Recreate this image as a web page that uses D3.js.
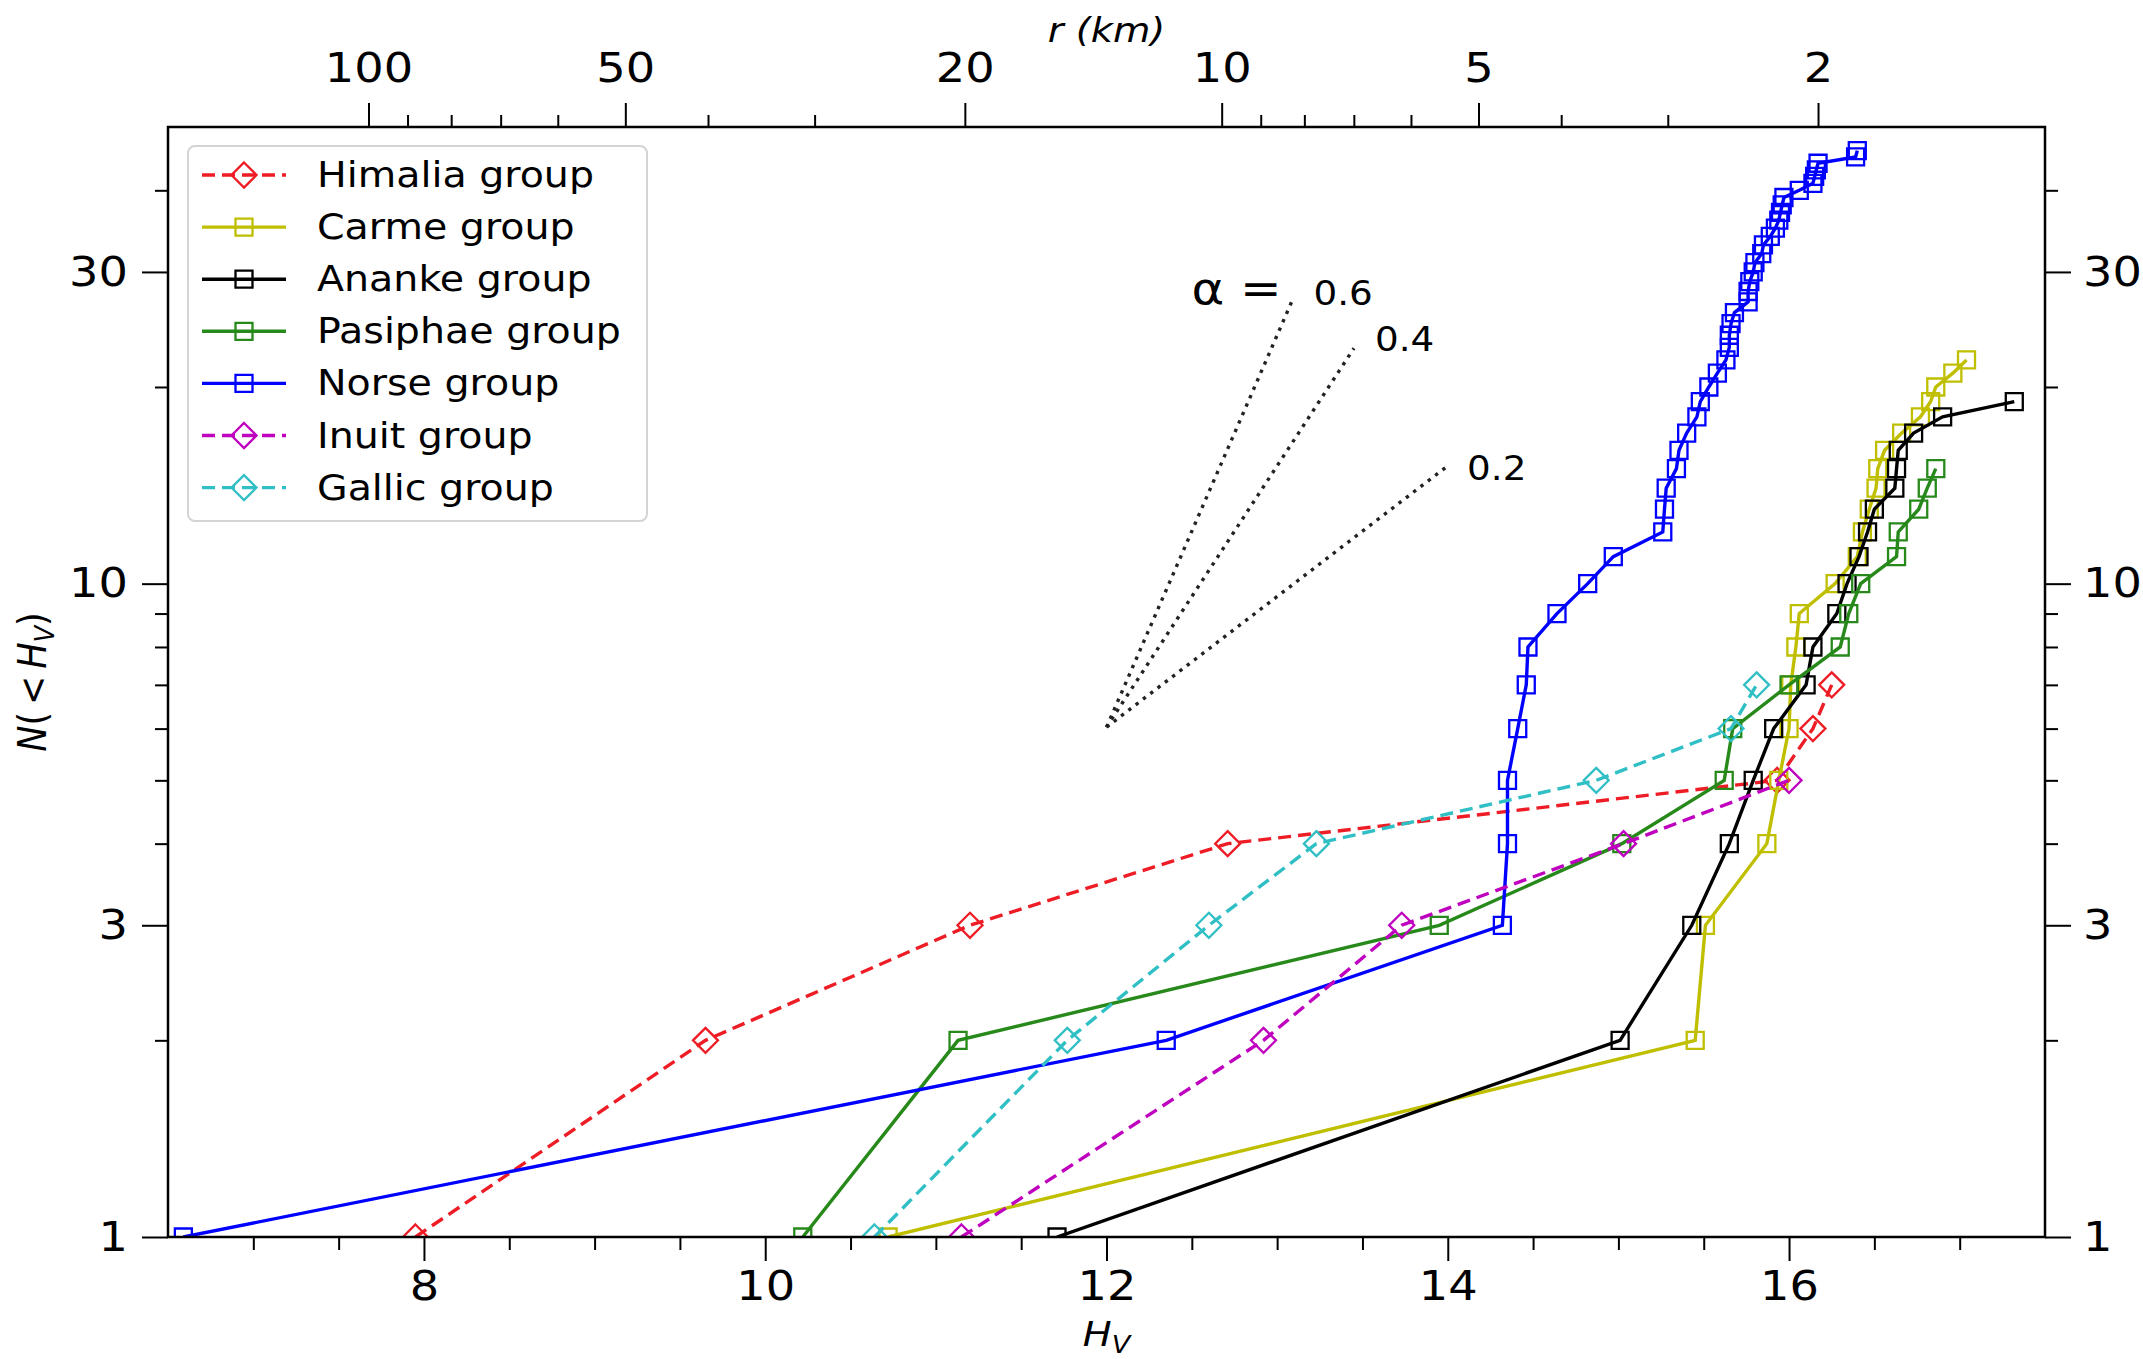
<!DOCTYPE html>
<html><head><meta charset="utf-8">
<script src="https://cdn.jsdelivr.net/npm/d3@7"></script>
<style>body{margin:0;background:#fff} text{font-family:"DejaVu Sans",sans-serif;fill:#000}</style>
</head><body><svg id="c" width="2143" height="1359"></svg>
<script>
// ---------------- data ----------------
const groups = ["Himalia group","Carme group","Ananke group","Pasiphae group","Norse group","Inuit group","Gallic group"];
const himalia  = [7.95, 9.65, 11.20, 12.71, 15.93, 16.14, 16.25];
const carme    = [10.72, 15.45, 15.51, 15.87, 15.94, 16.00, 16.01, 16.04, 16.06, 16.27, 16.40, 16.43, 16.47, 16.51, 16.52, 16.56, 16.66, 16.77, 16.83, 16.86, 16.96, 17.04];
const ananke   = [11.71, 15.01, 15.43, 15.65, 15.79, 15.91, 16.10, 16.14, 16.28, 16.34, 16.41, 16.46, 16.50, 16.62, 16.63, 16.64, 16.73, 16.90, 17.32];
const pasiphae = [10.22, 11.13, 13.95, 15.02, 15.62, 15.67, 16.00, 16.30, 16.35, 16.42, 16.63, 16.64, 16.76, 16.81, 16.86];
const norse    = [6.59, 12.35, 14.32, 14.35, 14.35, 14.41, 14.46, 14.47, 14.64, 14.82, 14.97, 15.26, 15.27, 15.28, 15.34, 15.355, 15.40, 15.46, 15.48, 15.53, 15.58, 15.63, 15.65, 15.65, 15.66, 15.68, 15.76, 15.76, 15.77, 15.79, 15.80, 15.84, 15.85, 15.89, 15.92, 15.94, 15.95, 15.96, 15.97, 16.06, 16.14, 16.15, 16.16, 16.17, 16.39, 16.40];
const inuit    = [11.15, 12.92, 13.73, 15.03, 16.00];
const gallic   = [10.64, 11.77, 12.60, 13.23, 14.87, 15.66, 15.81];

const xDomain = [6.5, 17.5];
const yDomain = [1, 50];
const xTicksMajor = [8, 10, 12, 14, 16];
const xTicksMinor = [7, 7.5, 8.5, 9, 9.5, 10.5, 11, 11.5, 12.5, 13, 13.5, 14.5, 15, 15.5, 16.5, 17];
const yTicksMajor = [1, 3, 10, 30];
const yTicksMinor = [2, 4, 5, 6, 7, 8, 9, 20, 40];
const rTicksMajor = [100, 50, 20, 10, 5, 2];
const rTicksMinor = [90, 80, 70, 60, 40, 30, 9, 8, 7, 6, 4, 3];
const hAt100km = 7.675;           // H_V corresponding to r = 100 km

const alphaSlopes = [0.6, 0.4, 0.2];
const alphaLabels = ["0.6", "0.4", "0.2"];
const alphaEndH   = [13.09, 13.45, 13.99];
const alphaOrigin = [12.0, 6.03];

// ---------------- style ----------------
const series = [himalia, carme, ananke, pasiphae, norse, inuit, gallic];
const colors = ["#ee1c25", "#bfbf00", "#000000", "#26891a", "#0000ff", "#bf00bf", "#30bfc4"];
const dashed = [true, false, false, false, false, true, true];
const marker = ["D", "s", "s", "s", "s", "D", "D"];
const alphaLabelDy = [5, 3, 13];
const SX = 1.13;   // horizontal text stretch of the original picture

const W = 2143, H = 1359;
const L = 168, R = 2045, T = 127, B = 1237;

const svg = d3.select("#c");
svg.append("rect").attr("width", W).attr("height", H).attr("fill", "#fff");

const x = d3.scaleLinear().domain(xDomain).range([L, R]);
const y = d3.scaleLog().domain(yDomain).range([B, T]);
const rOf = h => Math.pow(10, 2 - (h - hAt100km) / 5);
const r = d3.scaleLog().domain([rOf(xDomain[0]), rOf(xDomain[1])]).range([L, R]);

svg.append("clipPath").attr("id", "clip").append("rect")
  .attr("x", L).attr("y", T).attr("width", R - L).attr("height", B - T);

const sqPath = "M-8.5,-8.5H8.5V8.5H-8.5Z";
const dmPath = "M0,-12.5L12.5,0L0,12.5L-12.5,0Z";

// ---------------- alpha reference lines ----------------
const plot = svg.append("g").attr("clip-path", "url(#clip)");
const alphaG = svg.append("g");
alphaSlopes.forEach((a, i) => {
  const h0 = alphaOrigin[0], n0 = alphaOrigin[1];
  const h1 = alphaEndH[i], n1 = n0 * Math.pow(10, a * (h1 - h0));
  alphaG.append("line")
    .attr("x1", x(h0)).attr("y1", y(n0)).attr("x2", x(h1)).attr("y2", y(n1))
    .attr("stroke", "#222").attr("stroke-width", 3.4).attr("stroke-dasharray", "3.4,5.8");
  const g = alphaG.append("g").attr("transform", `translate(${x(h1) + 21},${y(n1) + alphaLabelDy[i]}) scale(${SX},1)`);
  g.append("text").attr("font-size", 33).text(alphaLabels[i]);
  if (i === 0) {
    const g2 = alphaG.append("g").attr("transform", `translate(${x(h1) - 101},${y(n1) + 4}) scale(${SX},1)`);
    g2.append("text").attr("font-size", 44).text("α =");
  }
});

// ---------------- series ----------------
const line = d3.line().x(d => x(d.h)).y(d => y(d.n));
series.forEach((vals, i) => {
  const pts = vals.map((h, k) => ({ h: h, n: k + 1 }));
  const g = plot.append("g");
  g.append("path").datum(pts).attr("d", line)
    .attr("fill", "none").attr("stroke", colors[i]).attr("stroke-width", 3.4)
    .attr("stroke-dasharray", dashed[i] ? "13,7" : null);
  g.selectAll("path.m").data(pts).enter().append("path").attr("class", "m")
    .attr("d", marker[i] === "s" ? sqPath : dmPath)
    .attr("transform", d => `translate(${x(d.h)},${y(d.n)})`)
    .attr("fill", "none").attr("stroke", colors[i]).attr("stroke-width", 2.3);
});

// ---------------- axes ----------------
function styleAxis(g) {
  g.select(".domain").remove();
  g.selectAll("line").attr("stroke", "#000").attr("stroke-width", 2);
  g.attr("font-family", null).attr("font-size", null);
  g.selectAll("text").attr("font-size", 41).each(function () {
    const t = d3.select(this);
    const xv = +t.attr("x") || 0;
    t.attr("x", xv / SX).attr("transform", `scale(${SX},1)`);
  });
}
const fmt = d3.format("d");
svg.append("g").attr("transform", `translate(0,${B})`)
  .call(d3.axisBottom(x).tickValues(xTicksMinor).tickSize(13).tickFormat("")).call(styleAxis);
svg.append("g").attr("transform", `translate(0,${B})`)
  .call(d3.axisBottom(x).tickValues(xTicksMajor).tickSize(24).tickPadding(10).tickFormat(fmt)).call(styleAxis);

svg.append("g").attr("transform", `translate(${L},0)`)
  .call(d3.axisLeft(y).tickValues(yTicksMinor).tickSize(13).tickFormat("")).call(styleAxis);
svg.append("g").attr("transform", `translate(${L},0)`)
  .call(d3.axisLeft(y).tickValues(yTicksMajor).tickSize(26).tickPadding(14).tickFormat(fmt)).call(styleAxis);

svg.append("g").attr("transform", `translate(${R},0)`)
  .call(d3.axisRight(y).tickValues(yTicksMinor).tickSize(13).tickFormat("")).call(styleAxis);
svg.append("g").attr("transform", `translate(${R},0)`)
  .call(d3.axisRight(y).tickValues(yTicksMajor).tickSize(26).tickPadding(12).tickFormat(fmt)).call(styleAxis);

svg.append("g").attr("transform", `translate(0,${T})`)
  .call(d3.axisTop(r).tickValues(rTicksMinor).tickSize(12).tickFormat("")).call(styleAxis);
svg.append("g").attr("transform", `translate(0,${T})`)
  .call(d3.axisTop(r).tickValues(rTicksMajor).tickSize(24).tickPadding(21).tickFormat(fmt)).call(styleAxis);

// spines
svg.append("rect").attr("x", L).attr("y", T).attr("width", R - L).attr("height", B - T)
  .attr("fill", "none").attr("stroke", "#000").attr("stroke-width", 2.5);

// axis titles
(function () {
  const g = svg.append("g").attr("transform", `translate(${(L + R) / 2},42) scale(${SX},1)`);
  g.append("text").attr("text-anchor", "middle").attr("font-size", 34).attr("font-style", "italic").text("r (km)");
  const g2 = svg.append("g").attr("transform", `translate(${(L + R) / 2},1346) scale(${SX},1)`);
  const t2 = g2.append("text").attr("text-anchor", "middle").attr("font-size", 34);
  t2.append("tspan").attr("font-style", "italic").text("H");
  t2.append("tspan").attr("font-style", "italic").attr("font-size", 24).attr("dy", 7).text("V");
  const g3 = svg.append("g").attr("transform", `translate(46,${(T + B) / 2}) rotate(-90) scale(1,${SX})`);
  const t3 = g3.append("text").attr("text-anchor", "middle").attr("font-size", 35);
  t3.append("tspan").attr("font-style", "italic").text("N");
  t3.append("tspan").text("(\u2009<\u2009");
  t3.append("tspan").attr("font-style", "italic").text("H");
  t3.append("tspan").attr("font-style", "italic").attr("font-size", 24).attr("dy", 7).text("V");
  t3.append("tspan").attr("dy", -7).text(")");
})();

// ---------------- legend ----------------
const lg = svg.append("g");
lg.append("rect").attr("x", 188).attr("y", 146).attr("width", 459).attr("height", 375)
  .attr("rx", 7).attr("fill", "#fff").attr("fill-opacity", 0.85)
  .attr("stroke", "#d4d4d4").attr("stroke-width", 2);
groups.forEach((name, i) => {
  const cy = 175 + i * 52.1;
  lg.append("line").attr("x1", 202).attr("x2", 286).attr("y1", cy).attr("y2", cy)
    .attr("stroke", colors[i]).attr("stroke-width", 3.4)
    .attr("stroke-dasharray", dashed[i] ? "13,7" : null);
  lg.append("path").attr("d", marker[i] === "s" ? sqPath : dmPath)
    .attr("transform", `translate(244,${cy})`)
    .attr("fill", "none").attr("stroke", colors[i]).attr("stroke-width", 2.3);
  const g = lg.append("g").attr("transform", `translate(317,${cy + 12}) scale(${SX},1)`);
  g.append("text").attr("font-size", 35).text(name);
});
</script></body></html>
